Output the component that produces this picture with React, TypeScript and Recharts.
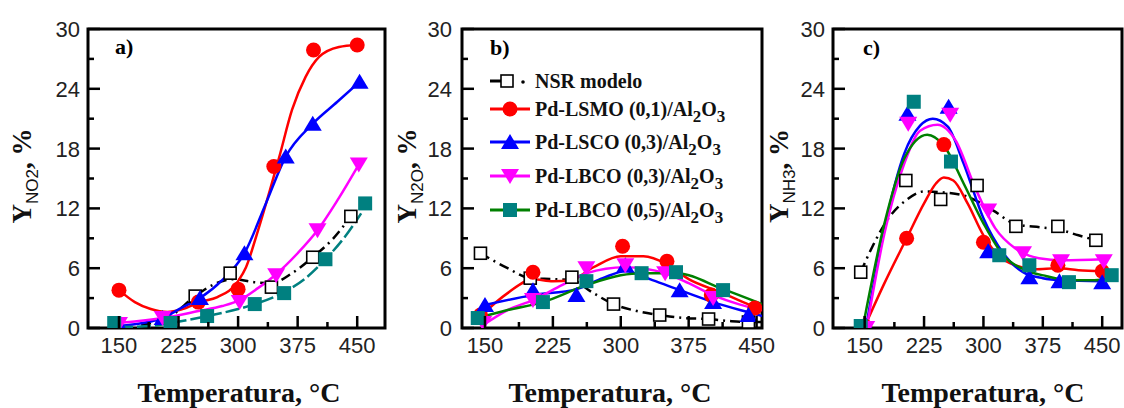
import React from 'react';
import { ComposedChart, XAxis, YAxis, Line, Scatter, ReferenceArea } from 'recharts';

type P = { x: number; y: number };

// ---- panel a) Y NO2 ----
const aNsrPts: P[] = [{ x: 246, y: 3.2 }, { x: 290, y: 5.5 }, { x: 342, y: 4.1 }, { x: 394, y: 7.1 }, { x: 442, y: 11.2 }];
const aNsrCurve: P[] = [{ x: 178, y: 0.3 }, { x: 215, y: 1.2 }, { x: 246, y: 3.2 }, { x: 270, y: 4.4 }, { x: 295, y: 4.9 }, { x: 320, y: 4.6 }, { x: 342, y: 4.5 }, { x: 368, y: 5.5 }, { x: 394, y: 7.1 }, { x: 420, y: 9.0 }, { x: 442, y: 11.2 }];
const aRedPts: P[] = [{ x: 150, y: 3.8 }, { x: 250, y: 2.6 }, { x: 300, y: 3.9 }, { x: 345, y: 16.2 }, { x: 395, y: 27.9 }, { x: 450, y: 28.4 }];
const aRedCurve: P[] = [{ x: 150, y: 3.8 }, { x: 170, y: 2.6 }, { x: 190, y: 1.9 }, { x: 211, y: 1.6 }, { x: 230, y: 1.9 }, { x: 252, y: 2.6 }, { x: 274, y: 3.1 }, { x: 300, y: 4.7 }, { x: 310, y: 6.1 }, { x: 324, y: 9.5 }, { x: 340, y: 13.8 }, { x: 352, y: 17.2 }, { x: 368, y: 21.9 }, { x: 385, y: 25.2 }, { x: 402, y: 27.2 }, { x: 427, y: 28.2 }, { x: 450, y: 28.4 }];
const aBluePts: P[] = [{ x: 150, y: 0.3 }, { x: 205, y: 1.0 }, { x: 252, y: 3.0 }, { x: 308, y: 7.5 }, { x: 360, y: 17.2 }, { x: 394, y: 20.5 }, { x: 453, y: 24.7 }];
const aBlueCurve: P[] = [{ x: 150, y: 0.2 }, { x: 180, y: 0.5 }, { x: 205, y: 1.0 }, { x: 228, y: 2.0 }, { x: 252, y: 3.0 }, { x: 280, y: 4.8 }, { x: 308, y: 7.5 }, { x: 335, y: 12.5 }, { x: 360, y: 17.2 }, { x: 394, y: 20.5 }, { x: 425, y: 22.7 }, { x: 453, y: 24.7 }];
const aMagPts: P[] = [{ x: 150, y: 0.4 }, { x: 205, y: 1.0 }, { x: 302, y: 2.6 }, { x: 348, y: 5.3 }, { x: 400, y: 9.8 }, { x: 452, y: 16.4 }];
const aMagCurve: P[] = [{ x: 146, y: 0.5 }, { x: 175, y: 0.7 }, { x: 205, y: 1.0 }, { x: 250, y: 1.7 }, { x: 280, y: 2.2 }, { x: 302, y: 2.8 }, { x: 325, y: 4.0 }, { x: 348, y: 5.4 }, { x: 375, y: 7.5 }, { x: 400, y: 9.8 }, { x: 425, y: 12.8 }, { x: 452, y: 16.4 }];
const aTealPts: P[] = [{ x: 144, y: 0.5 }, { x: 215, y: 0.5 }, { x: 261, y: 1.2 }, { x: 321, y: 2.4 }, { x: 358, y: 3.5 }, { x: 410, y: 6.9 }, { x: 460, y: 12.5 }];
const aTealCurve: P[] = [{ x: 150, y: 0.1 }, { x: 190, y: 0.2 }, { x: 215, y: 0.5 }, { x: 261, y: 1.2 }, { x: 300, y: 1.9 }, { x: 321, y: 2.4 }, { x: 358, y: 3.6 }, { x: 385, y: 5.0 }, { x: 410, y: 6.9 }, { x: 435, y: 9.2 }, { x: 455, y: 11.5 }];

// ---- panel b) Y N2O ----
const bNsrPts: P[] = [{ x: 145, y: 7.5 }, { x: 200, y: 5.0 }, { x: 246, y: 5.1 }, { x: 292, y: 2.4 }, { x: 343, y: 1.3 }, { x: 397, y: 0.9 }, { x: 441, y: 0.6 }];
const bNsrCurve: P[] = [{ x: 145, y: 7.5 }, { x: 175, y: 6.0 }, { x: 200, y: 5.0 }, { x: 225, y: 4.9 }, { x: 246, y: 4.8 }, { x: 268, y: 3.6 }, { x: 292, y: 2.4 }, { x: 318, y: 1.7 }, { x: 343, y: 1.3 }, { x: 370, y: 1.0 }, { x: 397, y: 0.9 }, { x: 420, y: 0.7 }, { x: 441, y: 0.6 }, { x: 456, y: 0.6 }];
const bRedPts: P[] = [{ x: 145, y: 1.3 }, { x: 203, y: 5.6 }, { x: 302, y: 8.2 }, { x: 351, y: 6.7 }, { x: 400, y: 3.3 }, { x: 448, y: 2.0 }];
const bRedCurve: P[] = [{ x: 145, y: 1.2 }, { x: 175, y: 3.5 }, { x: 203, y: 4.9 }, { x: 225, y: 4.7 }, { x: 245, y: 4.8 }, { x: 270, y: 6.1 }, { x: 300, y: 7.2 }, { x: 325, y: 7.2 }, { x: 351, y: 6.4 }, { x: 375, y: 4.9 }, { x: 410, y: 3.6 }, { x: 443, y: 2.3 }, { x: 456, y: 1.9 }];
const bBluePts: P[] = [{ x: 150, y: 2.3 }, { x: 203, y: 3.8 }, { x: 251, y: 3.3 }, { x: 305, y: 6.3 }, { x: 365, y: 3.8 }, { x: 402, y: 2.6 }, { x: 441, y: 1.3 }];
const bBlueCurve: P[] = [{ x: 150, y: 2.3 }, { x: 203, y: 3.3 }, { x: 251, y: 3.9 }, { x: 280, y: 5.0 }, { x: 305, y: 5.7 }, { x: 335, y: 4.8 }, { x: 365, y: 3.8 }, { x: 402, y: 2.6 }, { x: 440, y: 1.6 }, { x: 456, y: 1.2 }];
const bMagPts: P[] = [{ x: 148, y: 0.5 }, { x: 203, y: 2.8 }, { x: 262, y: 6.0 }, { x: 305, y: 6.3 }, { x: 349, y: 5.5 }, { x: 402, y: 3.0 }];
const bMagCurve: P[] = [{ x: 148, y: 0.3 }, { x: 175, y: 1.8 }, { x: 203, y: 2.8 }, { x: 235, y: 4.3 }, { x: 262, y: 5.5 }, { x: 305, y: 6.1 }, { x: 349, y: 5.5 }, { x: 375, y: 4.5 }, { x: 402, y: 3.3 }, { x: 430, y: 2.4 }, { x: 456, y: 1.8 }];
const bTealPts: P[] = [{ x: 142, y: 1.0 }, { x: 214, y: 2.6 }, { x: 262, y: 4.7 }, { x: 323, y: 5.5 }, { x: 361, y: 5.6 }, { x: 413, y: 3.8 }];
const bGreenCurve: P[] = [{ x: 142, y: 1.0 }, { x: 175, y: 1.8 }, { x: 214, y: 2.6 }, { x: 262, y: 4.3 }, { x: 300, y: 5.3 }, { x: 323, y: 5.5 }, { x: 361, y: 5.5 }, { x: 413, y: 3.9 }, { x: 456, y: 2.4 }];

// ---- panel c) Y NH3 ----
const cNsrPts: P[] = [{ x: 145, y: 5.6 }, { x: 202, y: 14.8 }, { x: 246, y: 12.9 }, { x: 292, y: 14.3 }, { x: 341, y: 10.2 }, { x: 394, y: 10.2 }, { x: 442, y: 8.8 }];
const cNsrCurve: P[] = [{ x: 145, y: 5.6 }, { x: 160, y: 8.2 }, { x: 180, y: 11.0 }, { x: 202, y: 12.8 }, { x: 225, y: 13.7 }, { x: 250, y: 13.6 }, { x: 279, y: 13.2 }, { x: 312, y: 11.8 }, { x: 341, y: 10.4 }, { x: 372, y: 10.1 }, { x: 394, y: 9.9 }, { x: 420, y: 9.3 }, { x: 442, y: 8.8 }];
const cRedPts: P[] = [{ x: 150, y: 0.2 }, { x: 203, y: 9.0 }, { x: 250, y: 18.4 }, { x: 300, y: 8.6 }, { x: 394, y: 6.3 }, { x: 450, y: 5.7 }];
const cRedCurve: P[] = [{ x: 152, y: 0.5 }, { x: 175, y: 4.5 }, { x: 203, y: 9.0 }, { x: 225, y: 12.5 }, { x: 240, y: 14.5 }, { x: 250, y: 15.1 }, { x: 262, y: 14.8 }, { x: 280, y: 12.5 }, { x: 300, y: 9.3 }, { x: 320, y: 7.2 }, { x: 340, y: 6.3 }, { x: 365, y: 5.9 }, { x: 394, y: 6.0 }, { x: 420, y: 5.8 }, { x: 450, y: 5.7 }];
const cBluePts: P[] = [{ x: 152, y: 0.2 }, { x: 204, y: 21.5 }, { x: 256, y: 22.2 }, { x: 306, y: 7.7 }, { x: 358, y: 5.1 }, { x: 396, y: 4.7 }, { x: 450, y: 4.6 }];
const cBlueCurve: P[] = [{ x: 152, y: 0.2 }, { x: 175, y: 10.0 }, { x: 200, y: 17.5 }, { x: 220, y: 20.3 }, { x: 236, y: 21.0 }, { x: 255, y: 20.2 }, { x: 275, y: 16.5 }, { x: 300, y: 11.0 }, { x: 325, y: 7.5 }, { x: 350, y: 5.6 }, { x: 375, y: 5.0 }, { x: 400, y: 4.8 }, { x: 450, y: 4.7 }];
const cMagPts: P[] = [{ x: 152, y: 0 }, { x: 205, y: 20.5 }, { x: 258, y: 21.4 }, { x: 306, y: 11.8 }, { x: 350, y: 7.5 }, { x: 398, y: 6.7 }, { x: 452, y: 6.7 }];
const cMagCurve: P[] = [{ x: 153, y: 0.2 }, { x: 175, y: 9.5 }, { x: 200, y: 16.5 }, { x: 220, y: 19.8 }, { x: 242, y: 20.4 }, { x: 265, y: 18.8 }, { x: 290, y: 14.0 }, { x: 315, y: 10.0 }, { x: 340, y: 8.0 }, { x: 370, y: 7.0 }, { x: 400, y: 6.8 }, { x: 452, y: 6.9 }];
const cTealPts: P[] = [{ x: 145, y: 0.2 }, { x: 212, y: 22.7 }, { x: 259, y: 16.7 }, { x: 320, y: 7.3 }, { x: 358, y: 6.3 }, { x: 408, y: 4.6 }, { x: 462, y: 5.3 }];
const cGreenCurve: P[] = [{ x: 148, y: 0.2 }, { x: 175, y: 10.5 }, { x: 200, y: 17.0 }, { x: 229, y: 19.4 }, { x: 250, y: 18.3 }, { x: 275, y: 14.5 }, { x: 300, y: 10.5 }, { x: 325, y: 7.3 }, { x: 350, y: 5.9 }, { x: 380, y: 5.2 }, { x: 410, y: 4.8 }, { x: 440, y: 4.8 }, { x: 462, y: 5.0 }];

const xTicks = [150, 187.5, 225, 262.5, 300, 337.5, 375, 412.5, 450];
const yTicks = [0, 3, 6, 9, 12, 15, 18, 21, 24, 27, 30];
const legendLabels = ['NSR modelo', 'Pd-LSMO (0,1)/Al', 'Pd-LSCO (0,3)/Al', 'Pd-LBCO (0,3)/Al', 'Pd-LBCO (0,5)/Al'];

const W = 1124;
const H = 408;
const TOP = 29;
const BOTTOM = 328;
const SANS = "'Liberation Sans', Arial, sans-serif";
const SERIF = "'Liberation Serif', 'Times New Roman', serif";
const RED = '#ff0000';
const BLUE = '#0000ff';
const MAG = '#ff00ff';
const TEAL = '#008080';
const GREEN = '#008000';

// markers
const circle = (c: string) => (p: any) => <circle cx={p.cx} cy={p.cy} r={7.5} fill={c} />;
const triUp = (c: string) => (p: any) => (
  <polygon points={`${p.cx},${p.cy - 8} ${p.cx - 9},${p.cy + 7} ${p.cx + 9},${p.cy + 7}`} fill={c} />
);
const triDown = (c: string) => (p: any) => (
  <polygon points={`${p.cx},${p.cy + 8} ${p.cx - 9},${p.cy - 7} ${p.cx + 9},${p.cy - 7}`} fill={c} />
);
const square = (c: string) => (p: any) => <rect x={p.cx - 7} y={p.cy - 7} width={14} height={14} fill={c} />;
const openSquare = (p: any) => (
  <rect x={p.cx - 6} y={p.cy - 6} width={12} height={12} fill="#fff" stroke="#000" strokeWidth={1.6} />
);

type Series = { pts: P[]; curve: P[]; line: string; dash?: string; shape: any };

// ticks point inwards; labels only on the major ones
const XTick = ({ x, y, payload }: any) => {
  const v = payload.value;
  const major = v % 75 === 0;
  return (
    <g>
      <line x1={x} x2={x} y1={y} y2={y - (major ? 12 : 6)} stroke="#000" strokeWidth={2.5} />
      {major && (
        <text x={x} y={y + 25} textAnchor="middle" fontSize={22} fontFamily={SANS} fill="#222">
          {v}
        </text>
      )}
    </g>
  );
};

const makeYTick = (gap: number) => ({ x, y, payload }: any) => {
  const v = payload.value;
  const major = v % 6 === 0;
  return (
    <g>
      <line x1={x} x2={x + (major ? 12 : 6)} y1={y} y2={y} stroke="#000" strokeWidth={2.5} />
      {major && (
        <text x={x - gap} y={y + 8} textAnchor="end" fontSize={22} fontFamily={SANS} fill="#222">
          {v}
        </text>
      )}
    </g>
  );
};

const Panel = ({ left, right, domain, gap, series }: { left: number; right: number; domain: [number, number]; gap: number; series: Series[] }) => (
  <div style={{ position: 'absolute', left: 0, top: 0 }}>
    <ComposedChart width={W} height={H} margin={{ top: TOP, bottom: H - BOTTOM - 1, left: left - 1, right: W - right }}>
      <XAxis type="number" dataKey="x" domain={domain} ticks={xTicks} interval={0} height={1} tickSize={0} tickMargin={0} axisLine={false} tickLine={false} tick={(p: any) => <XTick {...p} />} allowDataOverflow />
      <YAxis type="number" dataKey="y" domain={[0, 30]} ticks={yTicks} interval={0} width={1} tickSize={0} tickMargin={0} axisLine={false} tickLine={false} tick={makeYTick(gap)} allowDataOverflow />
      <ReferenceArea x1={domain[0]} x2={domain[1]} y1={0} y2={30} fill="none" stroke="#000" strokeWidth={3} />
      {series.map((s, i) => (
        <Line key={'l' + i} data={s.curve} dataKey="y" type="monotone" stroke={s.line} strokeWidth={2.5} strokeDasharray={s.dash} dot={false} activeDot={false} isAnimationActive={false} />
      ))}
      {series.map((s, i) => (
        <Scatter key={'s' + i} data={s.pts} dataKey="y" shape={s.shape} isAnimationActive={false} />
      ))}
    </ComposedChart>
  </div>
);

const DASHDOT = '10 5 2 5';

const seriesA: Series[] = [
  { pts: aNsrPts, curve: aNsrCurve, line: '#000', dash: DASHDOT, shape: openSquare },
  { pts: aRedPts, curve: aRedCurve, line: RED, shape: circle(RED) },
  { pts: aBluePts, curve: aBlueCurve, line: BLUE, shape: triUp(BLUE) },
  { pts: aMagPts, curve: aMagCurve, line: MAG, shape: triDown(MAG) },
  { pts: aTealPts, curve: aTealCurve, line: TEAL, dash: '14 4', shape: square(TEAL) },
];
const seriesB: Series[] = [
  { pts: bNsrPts, curve: bNsrCurve, line: '#000', dash: DASHDOT, shape: openSquare },
  { pts: bRedPts, curve: bRedCurve, line: RED, shape: circle(RED) },
  { pts: bBluePts, curve: bBlueCurve, line: BLUE, shape: triUp(BLUE) },
  { pts: bMagPts, curve: bMagCurve, line: MAG, shape: triDown(MAG) },
  { pts: bTealPts, curve: bGreenCurve, line: GREEN, shape: square(TEAL) },
];
const seriesC: Series[] = [
  { pts: cNsrPts, curve: cNsrCurve, line: '#000', dash: DASHDOT, shape: openSquare },
  { pts: cRedPts, curve: cRedCurve, line: RED, shape: circle(RED) },
  { pts: cBluePts, curve: cBlueCurve, line: BLUE, shape: triUp(BLUE) },
  { pts: cMagPts, curve: cMagCurve, line: MAG, shape: triDown(MAG) },
  { pts: cTealPts, curve: cGreenCurve, line: GREEN, shape: square(TEAL) },
];

const YTitle = ({ bx, sub }: { bx: number; sub: string }) => (
  <text transform={`translate(${bx},176) rotate(-90)`} textAnchor="middle" fontFamily={SERIF} fontWeight="bold" fontSize={27} fill="#111">
    Y
    <tspan fontFamily={SANS} fontWeight="normal" fontSize={17} dy={7}>{sub}</tspan>
    <tspan dy={-7}>, %</tspan>
  </text>
);

const XTitle = ({ cx }: { cx: number }) => (
  <text x={cx} y={402} textAnchor="middle" fontFamily={SERIF} fontWeight="bold" fontSize={28} fill="#111">
    Temperatura, °C
  </text>
);

const legendRows = [81, 109, 142, 176, 210];
const legendSymbols = [
  (y: number) => (
    <g>
      <line x1={490} x2={501} y1={y} y2={y} stroke="#000" strokeWidth={3} />
      {openSquare({ cx: 507, cy: y })}
      <circle cx={523} cy={y + 1} r={1.8} fill="#000" />
    </g>
  ),
  (y: number) => <g><line x1={490} x2={530} y1={y} y2={y} stroke={RED} strokeWidth={3} />{circle(RED)({ cx: 510, cy: y })}</g>,
  (y: number) => <g><line x1={490} x2={530} y1={y} y2={y} stroke={BLUE} strokeWidth={3} />{triUp(BLUE)({ cx: 510, cy: y })}</g>,
  (y: number) => <g><line x1={490} x2={530} y1={y} y2={y} stroke={MAG} strokeWidth={3} />{triDown(MAG)({ cx: 510, cy: y })}</g>,
  (y: number) => <g><line x1={490} x2={530} y1={y} y2={y} stroke={GREEN} strokeWidth={3} />{square(TEAL)({ cx: 510, cy: y })}</g>,
];

export default function App() {
  return (
    <div style={{ position: 'absolute', left: 0, top: 0, width: W, height: H, overflow: 'hidden', background: '#fff' }}>
      <Panel left={88} right={385} domain={[111, 485]} gap={8} series={seriesA} />
      <Panel left={462} right={762} domain={[124.6, 456]} gap={10} series={seriesB} />
      <Panel left={833} right={1122} domain={[110, 475]} gap={8} series={seriesC} />
      <svg width={W} height={H} style={{ position: 'absolute', left: 0, top: 0, pointerEvents: 'none' }}>
        <YTitle bx={31} sub="NO2" />
        <YTitle bx={416} sub="N2O" />
        <YTitle bx={788} sub="NH3" />
        <XTitle cx={239} />
        <XTitle cx={610} />
        <XTitle cx={983} />
        <text x={115} y={54} fontFamily={SERIF} fontWeight="bold" fontSize={22}>a)</text>
        <text x={490} y={55} fontFamily={SERIF} fontWeight="bold" fontSize={22}>b)</text>
        <text x={863} y={55} fontFamily={SERIF} fontWeight="bold" fontSize={22}>c)</text>
        {legendLabels.map((lab, i) => (
          <g key={lab}>
            {legendSymbols[i](legendRows[i])}
            <text x={535} y={legendRows[i] + 7} fontFamily={SERIF} fontWeight="bold" fontSize={20} fill="#111">
              {lab}
              {i > 0 && (
                <>
                  <tspan fontSize={17} dy={6}>2</tspan>
                  <tspan dy={-6}>O</tspan>
                  <tspan fontSize={17} dy={6}>3</tspan>
                </>
              )}
            </text>
          </g>
        ))}
      </svg>
    </div>
  );
}
